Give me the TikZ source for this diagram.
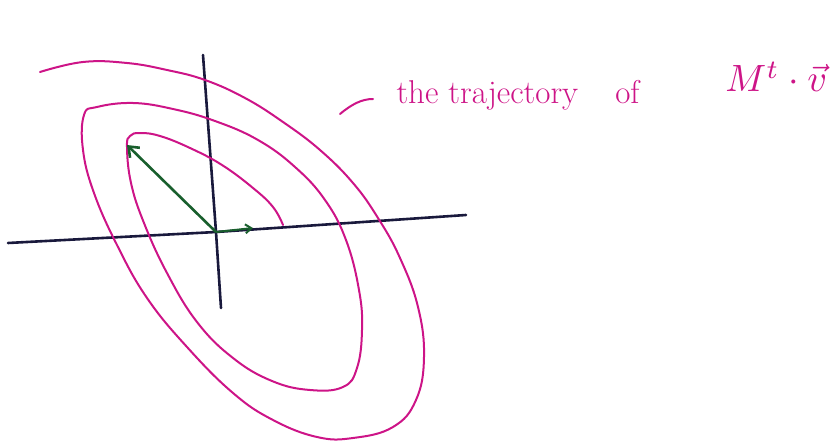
\documentclass[tikz,border=0pt]{standalone}
\usepackage{amsmath,amssymb}
\usepackage{tikz}
\usetikzlibrary{arrows.meta,positioning,calc}

\definecolor{pen}{RGB}{205,20,135}
\definecolor{axiscol}{RGB}{25,25,60}
\definecolor{vecgreen}{RGB}{25,95,45}

\begin{document}
\begin{tikzpicture}[x=1pt,y=-1pt,
    axis/.style={axiscol,line width=2.6pt,line cap=round},
    orbit/.style={pen,line width=2pt,line cap=round,line join=round},
    vecline/.style={vecgreen,line width=2.6pt,-{Straight Barb[length=9pt,width=14pt]}},
    scribble/.style={pen,font=\fontsize{33}{38}\selectfont}]
  \useasboundingbox (0,0) rectangle (839,444);
  % axes
  \coordinate (O) at (216,232);
  \draw[axis] (8,243) -- (O) -- (466,215);
  \draw[axis] (203,55) -- (O) -- (221,308);
  % trajectory, outer end to inner end
  \draw[orbit] plot[smooth,tension=0.7] coordinates {
    (40,72) (83,62) (127,63) (167,70) (205,80) (245,98) (283,122) (320,150)
    (353,183) (378,218) (400,258) (418,307) (424,357) (416,400) (393,427)
    (353,438) (317,437) (273,420) (233,393) (187,347) (147,298) (117,245)
    (94,193) (83,150) (84,115) (97,107) (133,103) (173,109) (215,121)
    (258,140) (295,167) (325,200) (346,240) (359,290) (362,330) (357,368)
    (343,387) (310,390) (272,381) (233,358) (197,322) (167,273) (144,223)
    (131,183) (127,147) (130,136) (140,133) (160,136) (190,148) (222,165)
    (253,188) (273,207) (283,225)};
  % vectors
  \draw[vecline] (O) -- (127,145);
  \draw[vecline,line width=2pt,-{Straight Barb[length=6pt,width=9pt]}] (O) -- (253,228);
  % note
  \draw[pen,line width=2pt,line cap=round] (340,114) .. controls (352,104) and (362,99) .. (373,99);
  \node[scribble,anchor=base west] (traj) at (393,103) {the trajectory};
  \node[scribble,anchor=base west,xshift=30pt] (of) at (traj.base east) {of};
  \node[pen,anchor=base west,scale=3.8] (Mtv) at (712,92) {$M^t\cdot\vec{v}$};
\end{tikzpicture}
\end{document}
